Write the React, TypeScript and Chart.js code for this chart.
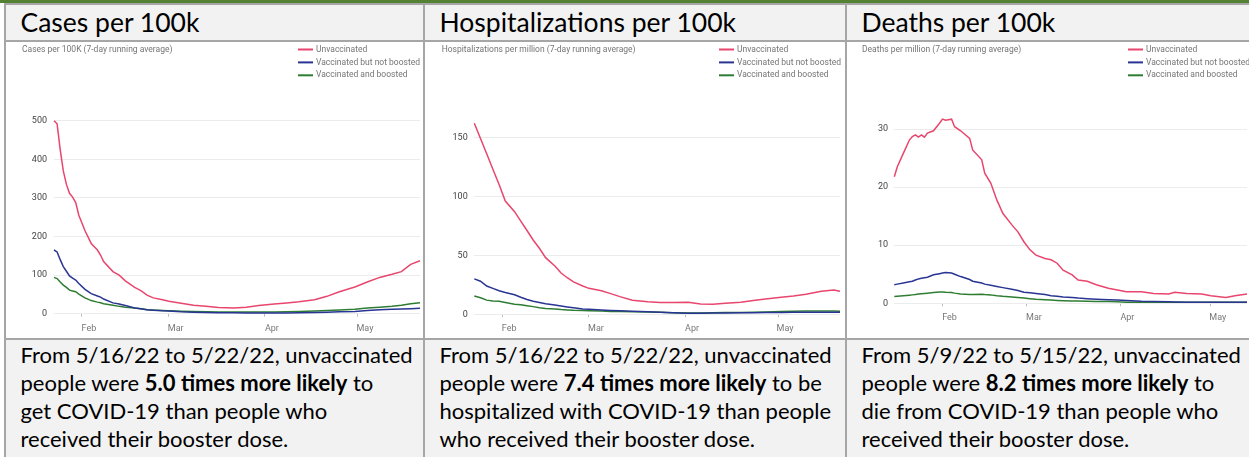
import React, { useEffect, useRef } from "react";
import { Chart, registerables } from "chart.js";

Chart.register(...registerables);

// ---------- shared labels ----------
const SERIES_LABELS = ["Unvaccinated", "Vaccinated but not boosted", "Vaccinated and boosted"];
const SERIES_COLORS = ["#e8466d", "#283593", "#2e7d32"];
const MONTH_LABELS = ["Feb", "Mar", "Apr", "May"];

// ---------- Cases per 100K (day 0 = Jan 23) ----------
const casesDays = [0, 1, 2, 3, 4, 5, 6, 7, 8, 10, 12, 14, 15, 16, 19, 21, 23, 26, 28, 30, 32, 35, 37, 41, 45, 49, 53, 58, 62, 66, 71, 75, 79, 84, 88, 92, 97, 101, 105, 109, 112, 115, 118];
const casesUnvaccinated = [500, 492, 425, 370, 335, 312, 302, 288, 255, 215, 182, 165, 152, 135, 109, 100, 85, 68, 60, 48, 41, 36, 32, 27, 22, 19, 16, 15, 17, 21, 25, 28, 31, 36, 45, 57, 69, 82, 94, 102, 109, 128, 137];
const casesNotBoosted = [165, 160, 140, 122, 110, 98, 92, 87, 78, 63, 52, 46, 43, 38, 28, 25, 21, 15, 13, 10.5, 9, 7.5, 7, 5, 4, 3, 2.6, 2.2, 2, 1.8, 1.7, 2, 2.6, 3.3, 4, 4.8, 6, 8.6, 10, 11.5, 12, 13, 13.8];
const casesBoosted = [94, 91, 82, 74, 68, 61, 59, 57, 51, 41, 34, 30, 28.5, 26, 22, 19, 17, 15, 13, 10.5, 9.5, 8.5, 7.8, 6.5, 5.5, 5, 4.5, 4.3, 4.3, 4.3, 4.5, 5.2, 6, 7.2, 8.6, 9.5, 11.5, 14.5, 17, 19.5, 22, 26, 28.5];
const casesMonthStarts = [9, 37, 68, 98];
const casesYTicks = [0, 100, 200, 300, 400, 500];

// ---------- Hospitalizations per million (day 0 = Jan 23) ----------
const hospDays = [0, 2, 4, 6, 8, 10, 13, 15, 17, 19, 21, 23, 26, 28, 30, 32, 35, 37, 41, 44, 47, 51, 56, 60, 64, 69, 73, 77, 81, 86, 90, 94, 99, 103, 107, 112, 116, 118];
const hospUnvaccinated = [162, 149, 136, 123, 110, 96, 87, 79, 71, 63, 56, 48, 41, 35, 31, 27.5, 24, 22, 20, 17.5, 15, 12, 10.7, 10, 10, 10.2, 8.8, 8.5, 9.3, 10.2, 11.6, 13, 14.4, 15.5, 17, 19.5, 20.6, 19.5];
const hospNotBoosted = [30, 28, 24, 22, 20, 18.5, 16.5, 14.4, 12.5, 11, 10, 9, 7.8, 7, 6.2, 5.5, 4.5, 4.2, 3.7, 3.3, 3, 2.6, 2.1, 1.7, 1.3, 0.9, 0.9, 1, 1.1, 1.3, 1.4, 1.5, 1.6, 1.7, 1.8, 1.8, 1.8, 1.7];
const hospBoosted = [15.5, 14, 12, 11.3, 11, 10, 8.5, 8, 7.3, 6.5, 5.5, 5, 4.5, 4, 3.7, 3.4, 3.2, 3, 2.7, 2.4, 2.3, 2.1, 1.9, 1.7, 1.4, 1.1, 1.2, 1.4, 1.5, 1.6, 1.7, 2, 2.3, 2.6, 2.8, 2.8, 2.7, 2.5];
const hospMonthStarts = [9, 37, 68, 98];
const hospYTicks = [0, 50, 100, 150];

// ---------- Deaths per million (day 0 = Jan 16) ----------
const deathsDays = [0, 1, 3, 5, 6, 7, 8, 9, 10, 11, 13, 15, 16, 17, 19, 20, 22, 25, 26, 29, 30, 32, 34, 36, 39, 41, 43, 45, 47, 50, 52, 54, 56, 59, 61, 64, 67, 71, 74, 77, 82, 86, 91, 93, 97, 102, 105, 110, 113, 117];
const deathsUnvaccinated = [21.8, 23.5, 25.8, 28.1, 28.7, 29, 28.6, 29, 28.6, 29.3, 29.7, 31, 31.7, 31.5, 31.7, 30.4, 29.7, 28.4, 26.4, 24.7, 22.4, 20.7, 17.8, 15.5, 13.5, 12.3, 10.6, 9.2, 8.3, 7.7, 7.5, 6.9, 5.7, 4.9, 4, 3.8, 3.2, 2.6, 2.3, 2, 2, 1.7, 1.6, 1.9, 1.7, 1.6, 1.3, 1, 1.3, 1.6];
const deathsNotBoosted = [3.2, 3.3, 3.5, 3.7, 3.8, 4, 4.2, 4.3, 4.4, 4.5, 4.9, 5.1, 5.2, 5.3, 5.2, 5, 4.6, 4.1, 3.8, 3.5, 3.3, 3.1, 2.9, 2.7, 2.4, 2.2, 1.9, 1.8, 1.7, 1.5, 1.3, 1.2, 1.1, 1, 0.9, 0.8, 0.7, 0.6, 0.55, 0.5, 0.35, 0.3, 0.25, 0.23, 0.2, 0.18, 0.17, 0.17, 0.17, 0.17];
const deathsBoosted = [1.15, 1.2, 1.3, 1.4, 1.45, 1.5, 1.6, 1.65, 1.7, 1.75, 1.85, 1.95, 1.95, 1.9, 1.85, 1.75, 1.6, 1.5, 1.5, 1.55, 1.5, 1.45, 1.3, 1.2, 1.1, 1, 0.9, 0.8, 0.7, 0.6, 0.55, 0.5, 0.45, 0.4, 0.4, 0.35, 0.3, 0.3, 0.25, 0.2, 0.17, 0.17, 0.17, 0.17, 0.17, 0.17, 0.17, 0.17, 0.17, 0.17];
const deathsMonthStarts = [16, 44, 75, 105];
const deathsYTicks = [0, 10, 20, 30];

type Panel = {
  header: string;
  chartTitle: string;
  days: number[];
  series: number[][];
  monthStarts: number[];
  yTicks: number[];
  xMax: number;
  yMax: number;
  box: { left: number; top: number; width: number; height: number };
  plot: { left: number; right: number; top: number; bottom: number };
  yLabelPad: number;
  xLabelPad: number;
  titleX: number;
  legendX: number;
  colX: number;
  lines: React.ReactNode[];
};

const PANELS: Panel[] = [
  {
    header: "Cases per 100k",
    chartTitle: "Cases per 100K (7-day running average)",
    days: casesDays,
    series: [casesUnvaccinated, casesNotBoosted, casesBoosted],
    monthStarts: casesMonthStarts,
    yTicks: casesYTicks,
    xMax: 118,
    yMax: 500,
    box: { left: 6, top: 42, width: 417, height: 296 },
    plot: { left: 48, right: 414, top: 78.7, bottom: 271.7 },
    yLabelPad: 7,
    xLabelPad: 6.5,
    titleX: 16,
    legendX: 292,
    colX: 20.5,
    lines: [
      "From 5/16/22 to 5/22/22, unvaccinated",
      <>people were <b>5.0 times more likely</b> to</>,
      "get COVID-19 than people who",
      "received their booster dose.",
    ],
  },
  {
    header: "Hospitalizations per 100k",
    chartTitle: "Hospitalizations per million (7-day running average)",
    days: hospDays,
    series: [hospUnvaccinated, hospNotBoosted, hospBoosted],
    monthStarts: hospMonthStarts,
    yTicks: hospYTicks,
    xMax: 118,
    yMax: 164,
    box: { left: 425, top: 42, width: 420, height: 296 },
    plot: { left: 49.3, right: 415, top: 78.8, bottom: 272.3 },
    yLabelPad: 6.6,
    xLabelPad: 6.5,
    titleX: 16.7,
    legendX: 294,
    colX: 439.5,
    lines: [
      "From 5/16/22 to 5/22/22, unvaccinated",
      <>people were <b>7.4 times more likely</b> to be</>,
      "hospitalized with COVID-19 than people",
      "who received their booster dose.",
    ],
  },
  {
    header: "Deaths per 100k",
    chartTitle: "Deaths per million (7-day running average)",
    days: deathsDays,
    series: [deathsUnvaccinated, deathsNotBoosted, deathsBoosted],
    monthStarts: deathsMonthStarts,
    yTicks: deathsYTicks,
    xMax: 117,
    yMax: 32.5,
    box: { left: 847, top: 42, width: 402, height: 296 },
    plot: { left: 47.3, right: 400, top: 72.5, bottom: 261.3 },
    yLabelPad: 6.3,
    xLabelPad: 6,
    titleX: 15,
    legendX: 281,
    colX: 861.5,
    lines: [
      "From 5/9/22 to 5/15/22, unvaccinated",
      <>people were <b>8.2 times more likely</b> to</>,
      "die from COVID-19 than people who",
      "received their booster dose.",
    ],
  },
];

function ChartCanvas({ p }: { p: Panel }) {
  const ref = useRef<HTMLCanvasElement | null>(null);
  useEffect(() => {
    if (!ref.current) return;
    const { box, plot } = p;
    const overlay = {
      id: "titleLegend",
      afterDraw(chart: any) {
        const ctx = chart.ctx as CanvasRenderingContext2D;
        ctx.save();
        ctx.font = "8.5px Roboto";
        ctx.fillStyle = "#757575";
        ctx.textBaseline = "middle";
        ctx.textAlign = "left";
        ctx.fillText(p.chartTitle, p.titleX, 8);
        chart.data.datasets.forEach((ds: any, i: number) => {
          const y = 7.5 + i * 12.9;
          ctx.strokeStyle = ds.borderColor;
          ctx.lineWidth = 2;
          ctx.beginPath();
          ctx.moveTo(p.legendX, y);
          ctx.lineTo(p.legendX + 15, y);
          ctx.stroke();
          ctx.fillStyle = "#757575";
          ctx.fillText(ds.label, p.legendX + 18, y);
        });
        ctx.restore();
      },
    };
    const chart = new Chart(ref.current, {
      type: "line",
      data: {
        datasets: SERIES_LABELS.map((label, i) => ({
          label,
          data: p.days.map((d, j) => ({ x: d, y: p.series[i][j] })),
          borderColor: SERIES_COLORS[i],
          backgroundColor: SERIES_COLORS[i],
          borderWidth: 1.5,
          pointRadius: 0,
          tension: 0,
          fill: false,
          clip: false as any,
        })),
      },
      options: {
        animation: false,
        responsive: false,
        devicePixelRatio: 1,
        layout: { padding: { left: 0, right: box.width - plot.right, top: plot.top, bottom: 0 } },
        plugins: { legend: { display: false }, title: { display: false }, tooltip: { enabled: false } },
        scales: {
          x: {
            type: "linear",
            min: 0,
            max: p.xMax,
            afterFit: (s: any) => {
              s.height = box.height - plot.bottom;
            },
            afterBuildTicks: (s: any) => {
              s.ticks = p.monthStarts.map((v) => ({ value: v }));
            },
            ticks: {
              autoSkip: false,
              maxRotation: 0,
              labelOffset: 7,
              padding: p.xLabelPad,
              color: "#777",
              font: { family: "Roboto", size: 9 },
              callback: (_v: any, idx: number) => MONTH_LABELS[idx] ?? "",
            },
            grid: { drawOnChartArea: false, drawTicks: true, tickLength: 3, color: "#bdbdbd" },
            border: { display: false },
          },
          y: {
            type: "linear",
            min: 0,
            max: p.yMax,
            afterFit: (s: any) => {
              s.width = plot.left;
            },
            afterBuildTicks: (s: any) => {
              s.ticks = p.yTicks.map((v) => ({ value: v }));
            },
            ticks: { padding: p.yLabelPad, color: "#444", font: { family: "Roboto", size: 9 } },
            grid: { drawTicks: false, color: "#ececec" },
            border: { display: false },
          },
        },
      } as any,
      plugins: [overlay],
    });
    return () => chart.destroy();
  }, []);
  return (
    <canvas
      ref={ref}
      width={p.box.width}
      height={p.box.height}
      style={{ position: "absolute", left: p.box.left, top: p.box.top, width: p.box.width, height: p.box.height }}
    />
  );
}

const BORDER = "#a6a6a6";
const CELL_BG = "#f2f2f2";

export default function App() {
  useEffect(() => {
    document.body.style.margin = "0";
    document.body.style.overflow = "hidden";
  }, []);
  const abs = (left: number, top: number, width: number, height: number, extra: React.CSSProperties = {}) =>
    ({ position: "absolute", left, top, width, height, ...extra }) as React.CSSProperties;
  const cols = [
    { left: 6, width: 417 },
    { left: 425, width: 420 },
    { left: 847, width: 402 },
  ];
  return (
    <div style={abs(0, 0, 1249, 457, { background: "#fff", overflow: "hidden" })}>
      <div style={abs(0, 0, 1249, 3, { background: "#548235" })} />
      {cols.map((c, i) => (
        <React.Fragment key={i}>
          <div style={abs(c.left, 5, c.width, 35, { background: CELL_BG })} />
          <div style={abs(c.left, 340, c.width, 117, { background: CELL_BG })} />
        </React.Fragment>
      ))}
      {/* borders */}
      <div style={abs(4, 3, 1245, 2, { background: BORDER })} />
      <div style={abs(4, 40, 1245, 2, { background: BORDER })} />
      <div style={abs(4, 338, 1245, 2, { background: BORDER })} />
      <div style={abs(4, 3, 2, 454, { background: BORDER })} />
      <div style={abs(423, 3, 2, 454, { background: BORDER })} />
      <div style={abs(845, 3, 2, 454, { background: BORDER })} />
      {PANELS.map((p, i) => (
        <React.Fragment key={i}>
          <div
            style={abs(p.colX, 4, 400, 36, {
              fontFamily: "Lato, 'Noto Sans', sans-serif",
              fontSize: 26.5,
              lineHeight: "36px",
              color: "#000",
              whiteSpace: "nowrap",
            })}
          >
            {p.header}
          </div>
          <ChartCanvas p={p} />
          <div
            style={abs(p.colX, 341, 420, 116, {
              fontFamily: "Lato, 'Noto Sans', sans-serif",
              fontSize: 22,
              lineHeight: "28px",
              color: "#000",
              whiteSpace: "nowrap",
            })}
          >
            {p.lines.map((l, k) => (
              <div key={k}>{l}</div>
            ))}
          </div>
        </React.Fragment>
      ))}
    </div>
  );
}
